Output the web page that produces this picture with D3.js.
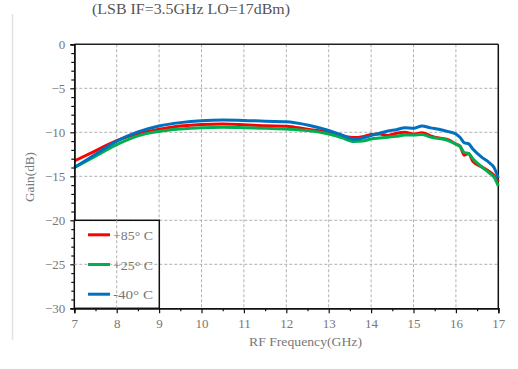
<!DOCTYPE html>
<html><head><meta charset="utf-8">
<script src="https://cdn.jsdelivr.net/npm/d3@7"></script>
<style>body{margin:0;background:#fff;} svg{display:block;}</style>
</head><body>
<script>
const freq = [7, 7.5, 8, 8.5, 9, 9.5, 10, 10.5, 11, 11.5, 12, 12.5, 13, 13.3, 13.6, 13.8, 14, 14.2, 14.4, 14.6, 14.8, 15, 15.2, 15.4, 15.6, 15.8, 16, 16.1, 16.2, 16.3, 16.4, 16.6, 16.8, 16.9, 17];
const gain85 = [-13.26, -12.1, -10.95, -10.15, -9.66, -9.28, -9.1, -9.05, -9.13, -9.25, -9.3, -9.66, -10.0, -10.35, -10.6, -10.5, -10.25, -10.2, -10.35, -10.1, -10.0, -10.2, -10.05, -10.4, -10.65, -10.8, -11.35, -11.6, -12.6, -12.4, -13.3, -13.9, -14.5, -14.9, -15.6];
const gain25 = [-14.0, -12.7, -11.4, -10.4, -9.9, -9.63, -9.47, -9.42, -9.47, -9.55, -9.63, -9.8, -10.2, -10.6, -11.05, -11.0, -10.76, -10.65, -10.55, -10.45, -10.3, -10.3, -10.25, -10.55, -10.7, -10.9, -11.35, -11.6, -12.3, -12.4, -13.0, -13.9, -14.66, -15.1, -16.1];
const gainM40 = [-14.0, -12.5, -11.0, -9.95, -9.28, -8.9, -8.68, -8.6, -8.65, -8.75, -8.8, -9.17, -9.8, -10.3, -10.8, -10.65, -10.38, -10.1, -9.85, -9.7, -9.47, -9.55, -9.28, -9.5, -9.66, -9.9, -10.2, -10.6, -11.2, -11.3, -11.9, -12.8, -13.5, -14.0, -15.2];
const seriesNames = ["+85° C", "+25° C", "-40° C"];
const seriesColors = ["#ff0000", "#00b050", "#0070c0"];
const xTicks = [7, 8, 9, 10, 11, 12, 13, 14, 15, 16, 17];
const yTicks = [0, -5, -10, -15, -20, -25, -30];
const title = "(LSB IF=3.5GHz LO=17dBm)";

const W = 518, H = 369;
const m = {l: 74.3, r: 498.3, t: 44.3, b: 308.3};
const svg = d3.select("body").append("svg").attr("width", W).attr("height", H);
const font = "'Liberation Serif','DejaVu Serif',serif";
const x = d3.scaleLinear().domain([7, 17]).range([m.l, m.r]);
const y = d3.scaleLinear().domain([-30, 0]).range([m.b, m.t]);

// left container line
svg.append("line").attr("x1", 12.5).attr("x2", 12.5).attr("y1", 14).attr("y2", 340)
  .attr("stroke", "#e2e2e2").attr("stroke-width", 1.5);

// title
svg.append("text").attr("x", 92).attr("y", 14).attr("font-family", font).attr("font-size", 15)
  .attr("textLength", 198).attr("lengthAdjust", "spacingAndGlyphs")
  .attr("fill", "#555").text(title);

// grid
const grid = svg.append("g").attr("stroke", "#b0b0b0").attr("stroke-width", 1).attr("stroke-dasharray", "3,2");
xTicks.slice(1, -1).forEach(v => grid.append("line").attr("x1", x(v)).attr("x2", x(v)).attr("y1", m.t).attr("y2", m.b));
yTicks.slice(1, -1).forEach(v => grid.append("line").attr("x1", m.l).attr("x2", m.r).attr("y1", y(v)).attr("y2", y(v)));

// frame top/right
svg.append("line").attr("x1", m.l).attr("x2", m.r).attr("y1", m.t).attr("y2", m.t).attr("stroke", "#222").attr("stroke-width", 1.5);
svg.append("line").attr("x1", m.r).attr("x2", m.r).attr("y1", m.t).attr("y2", m.b).attr("stroke", "#111").attr("stroke-width", 1.5);

// lines
const line = d3.line().x(d => x(d[0])).y(d => y(d[1])).curve(d3.curveMonotoneX);
[gain85, gain25, gainM40].forEach((g, i) => {
  svg.append("path").datum(freq.map((f, j) => [f, g[j]]))
    .attr("d", line).attr("fill", "none").attr("stroke", seriesColors[i]).attr("stroke-width", 3)
    .attr("stroke-linejoin", "round");
});

// axes
const xAxisG = svg.append("g").attr("transform", `translate(0,${m.b})`)
  .call(d3.axisBottom(x).tickValues(xTicks).tickSize(5).tickPadding(5).tickFormat(d3.format("d")));
const xMinor = svg.append("g").attr("transform", `translate(0,${m.b})`)
  .call(d3.axisBottom(x).tickValues(d3.range(7.5, 17, 1)).tickSize(3).tickFormat(""));
const yAxisG = svg.append("g").attr("transform", `translate(${m.l},0)`)
  .call(d3.axisLeft(y).tickValues(yTicks).tickSize(4).tickPadding(5).tickFormat(d => d < 0 ? "\u2212" + Math.abs(d) : d));
const yMinor = svg.append("g").attr("transform", `translate(${m.l},0)`)
  .call(d3.axisLeft(y).tickValues(d3.range(-29, 0, 1).filter(v => v % 5 !== 0)).tickSize(3).tickFormat(""));
[xAxisG, xMinor, yAxisG, yMinor].forEach(g => {
  g.select(".domain").attr("stroke", "#111").attr("stroke-width", 1.5);
  g.selectAll(".tick line").attr("stroke", "#111").attr("stroke-width", 1.2);
  g.selectAll("text").attr("font-family", font).attr("font-size", 13).attr("fill", "#777");
});

// axis titles
svg.append("text").attr("x", 305.5).attr("y", 346).attr("text-anchor", "middle")
  .attr("font-family", font).attr("font-size", 12).attr("fill", "#777")
  .attr("textLength", 113).attr("lengthAdjust", "spacingAndGlyphs").text("RF Frequency(GHz)");
svg.append("text").attr("transform", `translate(34,177) rotate(-90)`).attr("text-anchor", "middle")
  .attr("font-family", font).attr("font-size", 12).attr("fill", "#777")
  .attr("textLength", 50).attr("lengthAdjust", "spacingAndGlyphs").text("Gain(dB)");

// legend
const lg = svg.append("g");
lg.append("rect").attr("x", m.l).attr("y", y(-20)).attr("width", 85).attr("height", y(-30) - y(-20))
  .attr("fill", "#fff").attr("stroke", "#111").attr("stroke-width", 1.5);
lg.append("line").attr("x1", x(8)).attr("x2", x(8)).attr("y1", y(-20)).attr("y2", y(-30))
  .attr("stroke", "#b0b0b0").attr("stroke-dasharray", "3,2");
lg.append("line").attr("x1", m.l).attr("x2", m.l + 85).attr("y1", y(-25)).attr("y2", y(-25))
  .attr("stroke", "#b0b0b0").attr("stroke-dasharray", "3,2");
seriesNames.forEach((n, i) => {
  const yy = y(-20) + 14.5 + i * 29.7;
  lg.append("line").attr("x1", 88).attr("x2", 110).attr("y1", yy).attr("y2", yy)
    .attr("stroke", seriesColors[i]).attr("stroke-width", 3);
  lg.append("text").attr("x", 113).attr("y", yy + 5).attr("font-family", font).attr("font-size", 13)
    .attr("textLength", 40).attr("lengthAdjust", "spacingAndGlyphs")
    .attr("fill", "#777").text(n);
});
</script>
</body></html>
